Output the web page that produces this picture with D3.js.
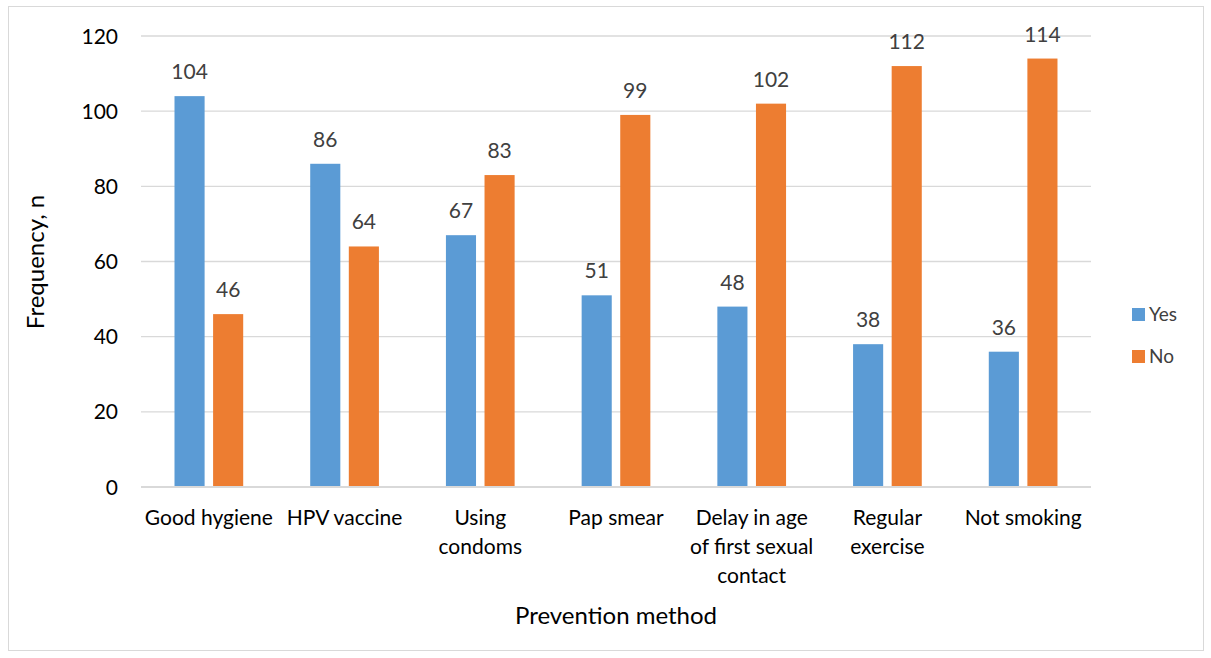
<!DOCTYPE html>
<html>
<head>
<meta charset="utf-8">
<script src="https://cdn.jsdelivr.net/npm/d3@7"></script>
<style>
  body { margin: 0; background: #fff; }
  text { font-family: Lato, "Open Sans", sans-serif; }
</style>
</head>
<body>
<script>
// chart data
var categories = [
    ["Good hygiene"],
    ["HPV vaccine"],
    ["Using", "condoms"],
    ["Pap smear"],
    ["Delay in age", "of first sexual", "contact"],
    ["Regular", "exercise"],
    ["Not smoking"]
];
var seriesNames = ["Yes", "No"];
var yesValues = [104, 86, 67, 51, 48, 38, 36];
var noValues = [46, 64, 83, 99, 102, 112, 114];
var yTicks = [0, 20, 40, 60, 80, 100, 120];
var colors = ["#5b9bd5", "#ed7d31"];

var w = 1211,
    h = 658;

var svg = d3.select("body").append("svg")
    .attr("width", w)
    .attr("height", h);

// outer border
svg.append("rect")
    .attr("x", 8.5).attr("y", 6.5)
    .attr("width", 1195).attr("height", 644)
    .attr("fill", "none")
    .attr("stroke", "#d9d9d9");

var x = d3.scaleBand()
    .domain(d3.range(categories.length))
    .range([141, 1091]);

var xs = d3.scaleBand()
    .domain(seriesNames)
    .range([33.5, 102.2])
    .paddingInner(0.22);

var y = d3.scaleLinear()
    .domain([0, 120])
    .range([487, 36]);

// gridlines
svg.selectAll("line.grid")
    .data(yTicks)
  .enter().append("line")
    .attr("class", "grid")
    .attr("x1", 141)
    .attr("x2", 1091)
    .attr("y1", function(d) { return y(d); })
    .attr("y2", function(d) { return y(d); })
    .style("stroke", "#d9d9d9")
    .style("stroke-width", function(d) { return d === 0 ? 2 : 1.3; });

// y tick labels
svg.selectAll("text.ytick")
    .data(yTicks)
  .enter().append("text")
    .attr("class", "ytick")
    .attr("x", 118)
    .attr("y", function(d) { return y(d); })
    .attr("dy", ".36em")
    .attr("text-anchor", "end")
    .style("font-size", "21px")
    .style("fill", "#000")
    .text(String);

var rows = [];
categories.forEach(function(c, i) {
    rows.push({ cat: i, s: "Yes", v: yesValues[i] });
    rows.push({ cat: i, s: "No", v: noValues[i] });
});

svg.selectAll("rect.bar")
    .data(rows)
  .enter().append("rect")
    .attr("class", "bar")
    .attr("x", function(d) { return x(d.cat) + xs(d.s); })
    .attr("width", xs.bandwidth())
    .attr("y", function(d) { return y(d.v); })
    .attr("height", function(d) { return y(0) - y(d.v) - 1; })
    .attr("fill", function(d) { return colors[seriesNames.indexOf(d.s)]; });

svg.selectAll("text.lbl")
    .data(rows)
  .enter().append("text")
    .attr("class", "lbl")
    .attr("x", function(d) { return x(d.cat) + xs(d.s) + xs.bandwidth() / 2; })
    .attr("y", function(d) { return y(d.v) - 17; })
    .attr("text-anchor", "middle")
    .style("font-size", "21px")
    .style("fill", "#404040")
    .text(function(d) { return d.v; });

// category labels
var cat = svg.selectAll("text.cat")
    .data(categories)
  .enter().append("text")
    .attr("class", "cat")
    .attr("text-anchor", "middle")
    .style("font-size", "21px")
    .style("fill", "#000");

cat.selectAll("tspan")
    .data(function(d, i) { return d.map(function(t) { return { t: t, i: i }; }); })
  .enter().append("tspan")
    .attr("x", function(d) { return x(d.i) + x.bandwidth() / 2; })
    .attr("y", function(d, j) { return 525 + j * 29; })
    .text(function(d) { return d.t; });

// axis titles
svg.append("text")
    .attr("x", 616)
    .attr("y", 624)
    .attr("text-anchor", "middle")
    .style("font-size", "24px")
    .style("fill", "#000")
    .text("Prevention method");

svg.append("text")
    .attr("transform", "translate(44,262) rotate(-90)")
    .attr("text-anchor", "middle")
    .style("font-size", "24px")
    .style("fill", "#000")
    .text("Frequency, n");

// legend
var leg = svg.selectAll("g.leg")
    .data(seriesNames)
  .enter().append("g")
    .attr("class", "leg")
    .attr("transform", function(d, i) { return "translate(1132," + (308 + i * 42) + ")"; });

leg.append("rect")
    .attr("width", 13).attr("height", 13)
    .attr("fill", function(d, i) { return colors[i]; });

leg.append("text")
    .attr("x", 17)
    .attr("y", 6.5)
    .attr("dy", ".36em")
    .style("font-size", "19px")
    .style("fill", "#404040")
    .text(String);
</script>
</body>
</html>
